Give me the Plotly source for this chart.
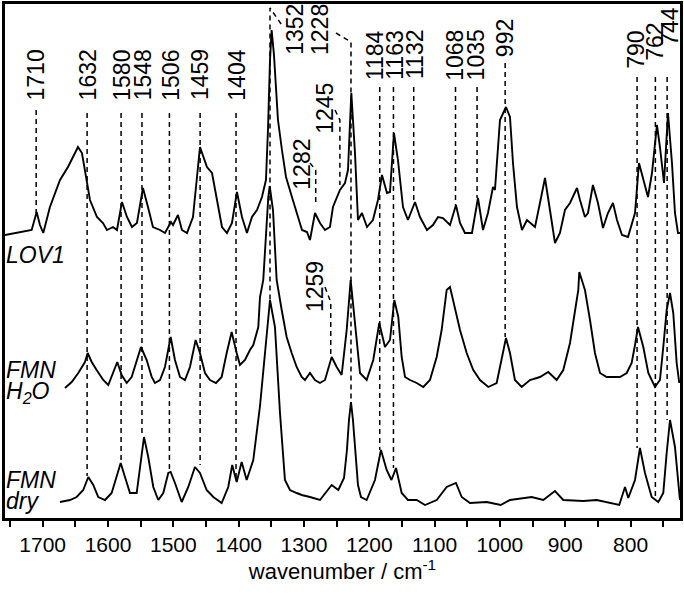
import plotly.graph_objects as go

# ---------------- spectra (wavenumber / cm-1, intensity in arbitrary units) -------------
lov1_wn = [1757.7, 1742.4, 1727.1, 1716.9, 1709.2, 1704.2, 1699.1, 1688.9, 1673.5, 1661.3,
           1653.6, 1646.0, 1639.9, 1632.2, 1627.6, 1616.9, 1607.7, 1601.6, 1592.4, 1586.3,
           1578.6, 1571.0, 1563.3, 1555.7, 1546.5, 1538.8, 1531.2, 1520.4, 1512.8, 1503.6,
           1500.5, 1492.9, 1486.8, 1479.1, 1469.9, 1459.2, 1448.5, 1440.8, 1433.2, 1425.5,
           1417.9, 1410.2, 1402.6, 1394.9, 1387.3, 1379.6, 1371.9, 1364.3, 1358.2, 1355.1,
           1352.0, 1349.5, 1345.9, 1342.8, 1339.8, 1333.7, 1327.5, 1318.4, 1309.2, 1303.0,
           1295.4, 1290.8, 1283.1, 1275.5, 1267.8, 1260.2, 1255.6, 1244.9, 1237.2, 1232.6,
           1227.5, 1221.9, 1217.3, 1211.2, 1203.5, 1194.4, 1186.7, 1180.6, 1172.9, 1168.3,
           1162.2, 1156.1, 1148.4, 1140.8, 1130.0, 1122.4, 1111.7, 1102.5, 1094.8, 1087.2,
           1076.4, 1067.3, 1061.1, 1053.5, 1042.8, 1033.6, 1025.9, 1018.3, 1010.6, 1007.6,
           999.9, 990.7, 984.6, 980.0, 973.9, 966.2, 958.6, 946.3, 938.7, 931.0,
           923.4, 915.7, 908.1, 900.4, 892.7, 882.0, 877.4, 869.8, 865.2, 857.6,
           849.9, 842.2, 834.6, 826.9, 820.8, 813.1, 803.9, 797.8, 793.2, 787.1,
           781.0, 773.3, 767.2, 759.6, 755.0, 748.8, 742.7, 736.6, 732.0, 727.4, 724.4]
lov1_int = [283, 285, 287, 288, 306, 293, 285, 311, 338, 351,
            361, 371, 365, 338, 318, 301, 295, 288, 291, 288,
            316, 301, 291, 295, 330, 311, 291, 288, 285, 296,
            293, 303, 288, 285, 301, 371, 351, 345, 318, 291,
            285, 295, 326, 301, 285, 301, 308, 321, 338, 388,
            458, 488, 463, 428, 398, 368, 341, 321, 301, 288,
            286, 278, 305, 295, 288, 291, 311, 328, 335, 348,
            425, 365, 298, 305, 291, 298, 318, 343, 325, 326,
            385, 358, 311, 298, 316, 301, 288, 293, 301, 300,
            293, 313, 295, 285, 285, 320, 288, 305, 331, 328,
            398, 411, 401, 355, 311, 288, 298, 291, 315, 340,
            308, 275, 285, 308, 315, 330, 318, 301, 305, 333,
            315, 290, 305, 315, 298, 283, 281, 295, 305, 355,
            341, 321, 345, 393, 371, 335, 405, 355, 305, 285, 285]

h2o_wn = [1665.9, 1655.6, 1645.5, 1635.3, 1631.1, 1625.0, 1617.4, 1607.3, 1599.6, 1591.9,
          1585.8, 1579.1, 1571.4, 1563.8, 1556.1, 1549.5, 1540.8, 1533.1, 1528.1, 1520.4,
          1512.8, 1504.1, 1497.5, 1489.8, 1482.2, 1474.5, 1465.8, 1459.2, 1451.5, 1443.9,
          1434.7, 1426.0, 1418.3, 1410.7, 1403.0, 1398.0, 1390.3, 1382.7, 1377.6, 1369.9,
          1367.3, 1362.3, 1354.6, 1352.5, 1347.4, 1341.8, 1334.1, 1326.5, 1318.8, 1311.2,
          1303.5, 1298.5, 1290.8, 1283.2, 1275.5, 1267.8, 1257.6, 1249.9, 1242.3, 1234.6,
          1228.5, 1224.5, 1219.3, 1214.2, 1204.0, 1193.9, 1184.7, 1176.0, 1168.3, 1161.7,
          1155.6, 1150.4, 1145.3, 1137.7, 1127.4, 1117.3, 1107.1, 1096.8, 1089.2, 1081.5,
          1076.4, 1068.8, 1061.1, 1050.9, 1040.8, 1030.5, 1017.8, 1005.0, 997.3, 990.7,
          984.6, 977.0, 966.7, 954.0, 938.7, 926.0, 913.1, 903.0, 892.7, 885.1,
          880.0, 878.5, 869.8, 862.1, 854.5, 846.8, 836.6, 826.4, 816.2, 805.9,
          798.3, 793.2, 788.6, 780.5, 772.8, 762.6, 755.0, 749.9, 744.7, 739.6,
          734.6, 729.4, 725.4]
h2o_int = [130, 136, 145, 156, 165, 156, 148, 138, 133, 146,
           156, 143, 135, 141, 158, 171, 158, 141, 135, 138,
           151, 181, 158, 141, 138, 151, 178, 165, 145, 138,
           135, 141, 165, 186, 165, 153, 158, 168, 173, 191,
           221, 238, 321, 332, 308, 238, 208, 181, 165, 151,
           141, 138, 145, 138, 135, 138, 161, 151, 143, 188,
           238, 211, 175, 145, 138, 158, 195, 171, 178, 218,
           201, 161, 141, 138, 135, 131, 138, 161, 188, 228,
           231, 211, 188, 165, 148, 138, 131, 135, 158, 180,
           165, 138, 131, 138, 141, 146, 138, 148, 175, 208,
           228, 246, 228, 198, 165, 145, 141, 141, 141, 145,
           155, 173, 191, 171, 145, 131, 138, 171, 208, 225,
           205, 155, 135]

dry_wn = [1673.5, 1658.2, 1648.0, 1637.9, 1630.2, 1622.6, 1614.9, 1604.6, 1594.4, 1586.7,
          1580.6, 1574.0, 1566.4, 1556.1, 1551.1, 1544.9, 1538.4, 1530.7, 1523.0, 1515.4,
          1507.7, 1504.1, 1497.5, 1487.2, 1477.1, 1466.9, 1459.2, 1449.0, 1438.8, 1426.0,
          1415.9, 1409.8, 1403.0, 1395.4, 1387.7, 1377.6, 1367.3, 1357.1, 1352.0, 1344.4,
          1336.7, 1329.1, 1321.4, 1311.2, 1303.5, 1290.8, 1275.5, 1257.6, 1247.4, 1238.7,
          1234.2, 1231.1, 1228.0, 1225.0, 1221.9, 1217.3, 1212.7, 1204.0, 1191.3, 1182.1,
          1173.4, 1166.0, 1159.1, 1150.4, 1140.8, 1127.4, 1114.7, 1096.8, 1081.5, 1067.3,
          1058.5, 1045.8, 1020.3, 998.8, 984.6, 964.2, 951.4, 933.6, 915.7, 903.0,
          872.4, 851.8, 831.5, 817.3, 808.5, 803.5, 793.2, 785.6, 777.9, 767.7,
          757.5, 749.9, 744.7, 739.6, 732.0, 726.9, 724.4]
dry_int = [16, 18, 21, 28, 41, 33, 21, 18, 25, 41,
           55, 41, 25, 25, 51, 81, 61, 31, 18, 25,
           45, 46, 35, 16, 31, 51, 45, 28, 21, 15,
           31, 53, 36, 56, 38, 58, 112, 188, 218, 191,
           105, 38, 28, 25, 23, 21, 18, 33, 28, 40,
           68, 98, 116, 98, 68, 33, 21, 18, 38, 68,
           48, 38, 50, 25, 18, 18, 13, 18, 31, 35,
           21, 15, 16, 13, 18, 20, 21, 18, 27, 18,
           17, 18, 15, 13, 31, 20, 38, 70, 45, 21,
           16, 25, 65, 98, 71, 38, 18]

# ---------------- peak labels -------------------------------------------------------------
peak_labels = ["1710", "1632", "1580", "1548", "1506", "1459", "1404", "1352", "1282", "1245",
               "1228", "1259", "1184", "1163", "1132", "1068", "1035", "992", "790", "762", "744"]
peak_wn = [1710, 1632, 1580, 1548, 1506, 1459, 1404, 1352, 1282, 1245,
           1228, 1259, 1184, 1163, 1132, 1068, 1035, 992, 790, 762, 744]
line_top = [408, 405, 405, 405, 405, 405, 405, 510, 348, 398,
            476, 216, 431, 431, 431, 431, 431, 455, 441, 441, 441]
line_bottom = [305, 42, 56, 81, 48, 53, 38, 218, 313, 333,
               118, 163, 68, 50, 315, 313, 320, 181, 70, 18, 98]
label_wn = [1709.5, 1630, 1579, 1546, 1504, 1459, 1403, 1314, 1303.5, 1268,
            1275.5, 1283, 1191, 1161, 1130, 1069, 1036, 992, 792, 763, 740]
label_mid = [443, 443, 443, 443, 443, 443, 443, 489, 354, 410,
             489, 231, 463, 463, 463, 463, 463, 480, 468, 476, 492]
leader_wn = [None, None, None, None, None, None, None, 1335.0, 1290.8, 1252.5,
             1251.0, 1267.8, None, None, None, None, None, None, None, None, None]
leader_int = [None, None, None, None, None, None, None, 494, 355, 408,
              485, 231, None, None, None, None, None, None, None, None, None]

FONT = "Liberation Sans, Arial, Helvetica, sans-serif"

fig = go.Figure()

# dashed marker lines
dx, dy = [], []
for i in range(len(peak_wn)):
    if leader_wn[i] is not None:
        dx += [leader_wn[i]]
        dy += [leader_int[i]]
    dx += [peak_wn[i], peak_wn[i], None]
    dy += [line_top[i], line_bottom[i], None]
fig.add_trace(go.Scatter(x=dx, y=dy, mode="lines", hoverinfo="skip",
                         line=dict(color="black", width=1.5, dash="5px,4px")))

for wn, inten in [(lov1_wn, lov1_int), (h2o_wn, h2o_int), (dry_wn, dry_int)]:
    fig.add_trace(go.Scatter(x=wn, y=inten, mode="lines", hoverinfo="skip",
                             line=dict(color="black", width=1.9)))

annotations = []
for txt, xw, ym in zip(peak_labels, label_wn, label_mid):
    annotations.append(dict(x=xw, y=ym, xref="x", yref="y", text=txt, showarrow=False,
                            textangle=-90, xanchor="center", yanchor="middle",
                            font=dict(family=FONT, size=23, color="black"),
                            borderpad=0))

# series names
names = [("<i>LOV1</i>", 255), ("<i>FMN</i>", 370), ("<i>H<sub>2</sub>O</i>", 392),
         ("<i>FMN</i>", 480), ("<i>dry</i>", 501)]
for txt, py in names:
    annotations.append(dict(x=0.0, y=1 - (py - 4) / 514, xref="paper", yref="paper",
                            text=txt, showarrow=False, xanchor="left", yanchor="middle",
                            font=dict(family=FONT, size=23, color="black"), borderpad=0))

fig.update_layout(
    width=684, height=597,
    margin=dict(l=5, r=4, t=4, b=79, autoexpand=False),
    paper_bgcolor="white", plot_bgcolor="white",
    showlegend=False,
    annotations=annotations,
    xaxis=dict(range=[1757.7, 724.3], showline=True, mirror=True, linewidth=3, linecolor="black",
               automargin=False,
               ticks="outside", ticklen=6, tickwidth=2, tickcolor="black",
               tickvals=[1700, 1600, 1500, 1400, 1300, 1200, 1100, 1000, 900, 800],
               minor=dict(tickvals=[1750, 1650, 1550, 1450, 1350, 1250, 1150, 1050, 950, 850, 750],
                          ticks="outside", ticklen=6, tickwidth=2, tickcolor="black"),
               showgrid=False, zeroline=False,
               tickfont=dict(family=FONT, size=21, color="black"),
               title=dict(text="wavenumber / cm<sup>-1</sup>", standoff=8,
                          font=dict(family=FONT, size=22, color="black"))),
    yaxis=dict(range=[0, 514], showline=True, mirror=True, linewidth=3, linecolor="black",
               automargin=False,
               showticklabels=False, ticks="", showgrid=False, zeroline=False),
)

fig.write_html("out.html", config={"displayModeBar": False},
               post_script="document.body.style.margin='0px';document.body.style.overflow='hidden';")
